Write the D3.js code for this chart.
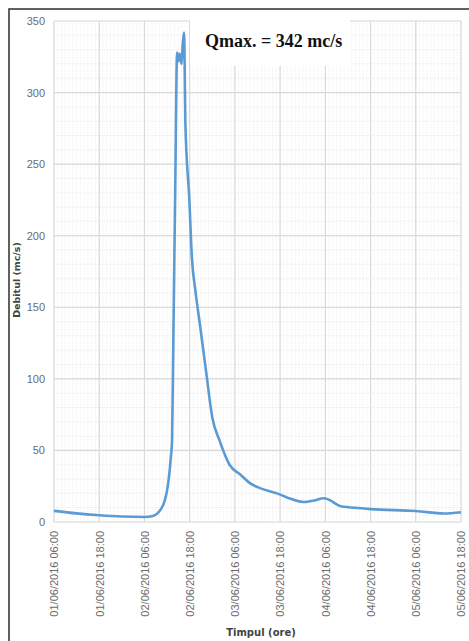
<!DOCTYPE html>
<html>
<head>
<meta charset="utf-8">
<script src="https://cdn.jsdelivr.net/npm/d3@7"></script>
<style>
  body { margin: 0; background: #fff; }
  svg { display: block; }
</style>
</head>
<body>
<svg id="chart" width="469" height="641"></svg>
<script>
// hydrograph readings, dd/mm/yyyy HH:MM
var times = [
    "01/06/2016 06:00", "01/06/2016 12:00", "01/06/2016 18:00", "02/06/2016 00:00",
    "02/06/2016 06:00", "02/06/2016 08:00", "02/06/2016 10:30", "02/06/2016 11:30",
    "02/06/2016 12:00", "02/06/2016 13:00", "02/06/2016 13:20", "02/06/2016 13:40",
    "02/06/2016 14:10", "02/06/2016 14:40", "02/06/2016 15:00", "02/06/2016 15:20",
    "02/06/2016 15:50", "02/06/2016 16:10", "02/06/2016 16:30", "02/06/2016 16:40",
    "02/06/2016 16:50", "02/06/2016 17:55", "02/06/2016 18:35", "02/06/2016 19:30",
    "02/06/2016 20:40", "02/06/2016 22:25", "03/06/2016 00:00", "03/06/2016 01:55",
    "03/06/2016 04:35", "03/06/2016 07:30", "03/06/2016 10:05", "03/06/2016 12:50",
    "03/06/2016 17:10", "03/06/2016 20:00", "04/06/2016 00:10", "04/06/2016 03:00",
    "04/06/2016 05:35", "04/06/2016 07:00", "04/06/2016 10:05", "04/06/2016 15:25",
    "04/06/2016 18:00", "05/06/2016 06:00", "05/06/2016 13:30", "05/06/2016 18:00"
];
var flows = [
    7.8, 6, 4.7, 3.8,
    3.5, 4, 9.5, 16,
    22, 45, 57, 127,
    232, 328, 322, 327,
    320, 334, 342, 320,
    281, 225, 185, 162,
    139, 104, 73, 57,
    40, 33, 27, 23.5,
    20, 17, 14, 15,
    16.6, 15.5, 11, 9.6,
    9, 7.7, 5.9, 6.8
];
var yTicks = [0, 50, 100, 150, 200, 250, 300, 350];
var titleText = "Qmax. = 342 mc/s";
var yLabel = "Debitul (mc/s)";
var xLabel = "Timpul (ore)";

var parse = d3.timeParse("%d/%m/%Y %H:%M");
var fmt = d3.timeFormat("%d/%m/%Y %H:%M");

var data = times.map(function (t, i) {
    return { date: parse(t), value: flows[i] };
});

var svg = d3.select("#chart");

var plotLeft = 54, plotRight = 461, plotTop = 21, plotBottom = 522;

var x = d3.scaleTime()
    .domain([parse("01/06/2016 06:00"), parse("05/06/2016 18:00")])
    .range([plotLeft, plotRight]);

var y = d3.scaleLinear()
    .domain([0, 350])
    .range([plotBottom, plotTop]);

// outer frame
svg.append("rect")
    .attr("x", 9).attr("y", 9)
    .attr("width", 480).attr("height", 660)
    .style("fill", "#fff")
    .style("stroke", "#3a3a3a")
    .style("stroke-width", 1.6);

// minor grid
var g = svg.append("g");
g.selectAll(".vminor")
    .data(x.ticks(d3.timeHour.every(1)))
    .join("line")
    .attr("x1", function (d) { return x(d); })
    .attr("x2", function (d) { return x(d); })
    .attr("y1", plotTop).attr("y2", plotBottom)
    .style("stroke", "#ececec")
    .style("stroke-width", 0.8)
    .style("stroke-dasharray", "1,1");

g.selectAll(".hminor")
    .data(d3.range(0, 351, 10))
    .join("line")
    .attr("x1", plotLeft).attr("x2", plotRight)
    .attr("y1", function (d) { return y(d); })
    .attr("y2", function (d) { return y(d); })
    .style("stroke", "#e6e6e6")
    .style("stroke-width", 0.8)
    .style("stroke-dasharray", "1,1");

// major grid
var xTickVals = d3.range(0, 10).map(function (i) {
    return d3.timeHour.offset(parse("01/06/2016 06:00"), 12 * i);
});

g.selectAll(".vmajor")
    .data(xTickVals)
    .join("line")
    .attr("x1", function (d) { return x(d); })
    .attr("x2", function (d) { return x(d); })
    .attr("y1", plotTop).attr("y2", plotBottom)
    .style("stroke", "#d9d9d9")
    .style("stroke-width", 1.2);

g.selectAll(".hmajor")
    .data(yTicks)
    .join("line")
    .attr("x1", plotLeft).attr("x2", plotRight)
    .attr("y1", function (d) { return y(d); })
    .attr("y2", function (d) { return y(d); })
    .style("stroke", "#d9d9d9")
    .style("stroke-width", 1.2);

// y axis
var yAxis = svg.append("g")
    .attr("transform", "translate(" + (plotLeft - 9) + ",0)")
    .call(d3.axisLeft(y).tickValues(yTicks).tickSize(0).tickPadding(0));
yAxis.select(".domain").remove();
yAxis.selectAll("text")
    .style("font-family", "'Liberation Sans', Arial, sans-serif")
    .style("font-size", "11px")
    .style("fill", "#6b6b6b");

// x axis
var xAxis = svg.append("g")
    .attr("transform", "translate(0," + plotBottom + ")")
    .call(d3.axisBottom(x).tickValues(xTickVals).tickFormat(fmt).tickSize(0));
xAxis.select(".domain").remove();
xAxis.selectAll("text")
    .attr("transform", "rotate(-90)")
    .attr("text-anchor", "end")
    .attr("x", -9)
    .attr("y", 0)
    .attr("dy", "0.35em")
    .style("font-family", "'Liberation Sans', Arial, sans-serif")
    .style("font-size", "11px")
    .style("fill", "#6b6b6b");

// series
var line = d3.line()
    .x(function (d) { return x(d.date); })
    .y(function (d) { return y(d.value); })
    .curve(d3.curveMonotoneX);

svg.append("path")
    .datum(data)
    .attr("d", line)
    .style("fill", "none")
    .style("stroke", "#5b9bd5")
    .style("stroke-width", 2.6)
    .style("stroke-linejoin", "round");

// annotation box
svg.append("rect")
    .attr("x", 190).attr("y", 12)
    .attr("width", 160).attr("height", 54)
    .style("fill", "#fff");

svg.append("text")
    .attr("x", 205).attr("y", 47)
    .text(titleText)
    .style("font-family", "'Liberation Serif', 'Times New Roman', serif")
    .style("font-weight", "bold")
    .style("font-size", "18px")
    .style("fill", "#111");

// axis titles
svg.append("text")
    .attr("transform", "translate(20,280) rotate(-90)")
    .attr("text-anchor", "middle")
    .text(yLabel)
    .style("font-family", "'DejaVu Sans', sans-serif")
    .style("font-weight", "bold")
    .style("font-size", "9.5px")
    .style("fill", "#444");

svg.append("text")
    .attr("x", 261).attr("y", 636)
    .attr("text-anchor", "middle")
    .text(xLabel)
    .style("font-family", "'DejaVu Sans', sans-serif")
    .style("font-weight", "bold")
    .style("font-size", "10px")
    .style("fill", "#444");
</script>
</body>
</html>
